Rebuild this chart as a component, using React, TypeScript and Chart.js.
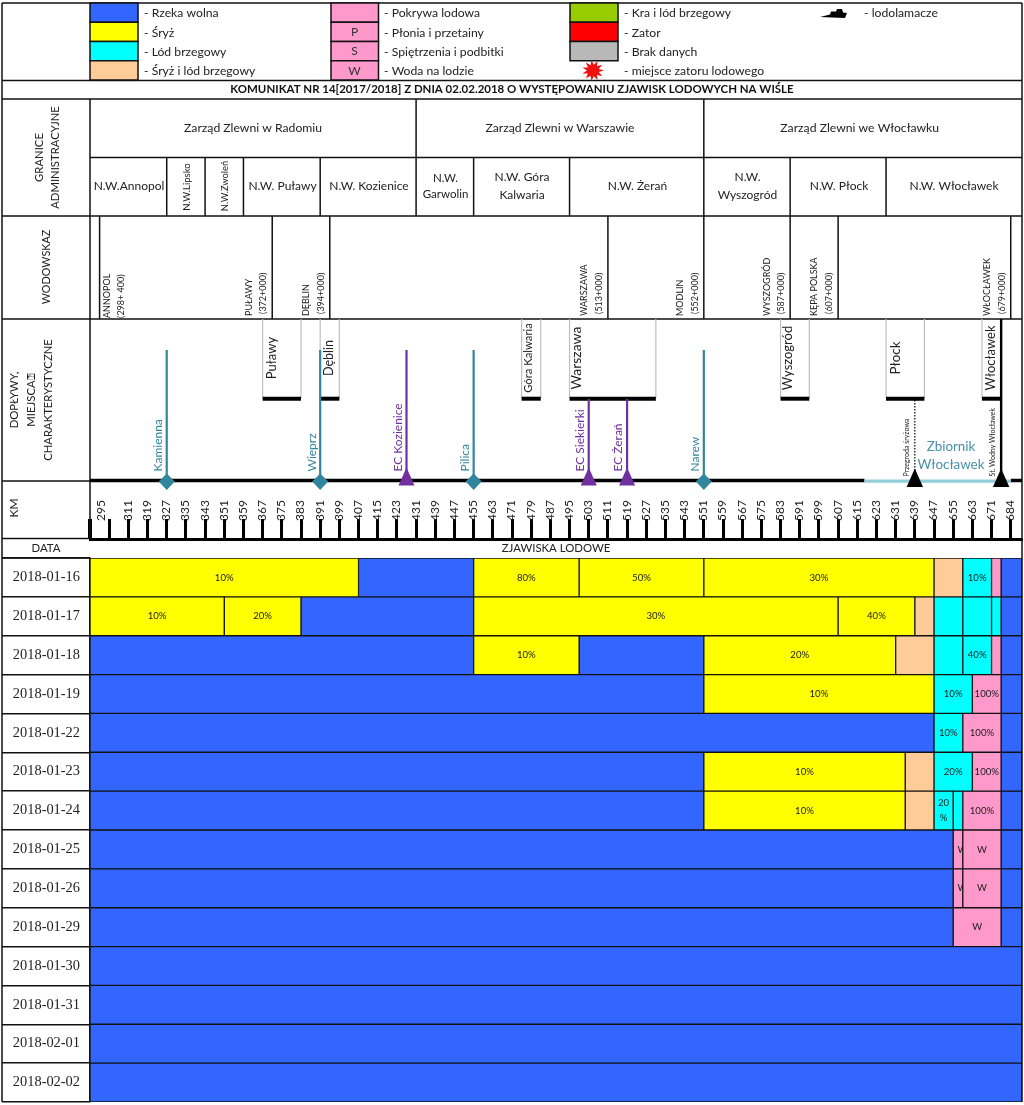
import React, { useEffect, useRef } from "react";
import { Chart, registerables } from "chart.js";

Chart.register(...registerables);

const FONT = "Lato";
const INK = "#222222";
const TEAL = "#31859C";
const PURPLE = "#7030A0";

const dates = [
  "2018-01-16", "2018-01-17", "2018-01-18", "2018-01-19", "2018-01-22", "2018-01-23", "2018-01-24",
  "2018-01-25", "2018-01-26", "2018-01-29", "2018-01-30", "2018-01-31", "2018-02-01", "2018-02-02",
];

const kmStart = 295;
const kmEnd = 683.7;

// river-km edges, ice types and labels per date
const edges0116 = [kmStart, 407, 455, 499, 551, 647, 659, 671, 675, kmEnd];
const types0116 = ["S", "R", "S", "S", "S", "B", "L", "P", "R"];
const labels0116 = ["10%", "", "80%", "50%", "30%", "", "10%", "", ""];

const edges0117 = [kmStart, 351, 383, 455, 607, 639, 647, 659, 671, 675, kmEnd];
const types0117 = ["S", "S", "R", "S", "S", "B", "L", "L", "L", "R"];
const labels0117 = ["10%", "20%", "", "30%", "40%", "", "", "", "", ""];

const edges0118 = [kmStart, 455, 499, 551, 631, 647, 659, 671, 675, kmEnd];
const types0118 = ["R", "S", "R", "S", "B", "L", "L", "P", "R"];
const labels0118 = ["", "10%", "", "20%", "", "", "40%", "", ""];

const edges0119 = [kmStart, 551, 647, 663, 675, kmEnd];
const types0119 = ["R", "S", "L", "P", "R"];
const labels0119 = ["", "10%", "10%", "100%", ""];

const edges0122 = [kmStart, 647, 659, 675, kmEnd];
const types0122 = ["R", "L", "P", "R"];
const labels0122 = ["", "10%", "100%", ""];

const edges0123 = [kmStart, 551, 635, 647, 663, 675, kmEnd];
const types0123 = ["R", "S", "B", "L", "P", "R"];
const labels0123 = ["", "10%", "", "20%", "100%", ""];

const edges0124 = [kmStart, 551, 635, 647, 655, 659, 675, kmEnd];
const types0124 = ["R", "S", "B", "L", "L", "P", "R"];
const labels0124 = ["", "10%", "", "20\n%", "", "100%", ""];

const edges0125 = [kmStart, 655, 659, 675, kmEnd];
const types0125 = ["R", "P", "P", "R"];
const labels0125 = ["", "W", "W", ""];

const edges0126 = [kmStart, 655, 659, 675, kmEnd];
const types0126 = ["R", "P", "P", "R"];
const labels0126 = ["", "W", "W", ""];

const edges0129 = [kmStart, 655, 675, kmEnd];
const types0129 = ["R", "P", "R"];
const labels0129 = ["", "W", ""];

const edgesOpen = [kmStart, kmEnd];
const typesOpen = ["R"];
const labelsOpen = [""];

const rowEdges = [edges0116, edges0117, edges0118, edges0119, edges0122, edges0123, edges0124, edges0125, edges0126, edges0129, edgesOpen, edgesOpen, edgesOpen, edgesOpen];
const rowTypes = [types0116, types0117, types0118, types0119, types0122, types0123, types0124, types0125, types0126, types0129, typesOpen, typesOpen, typesOpen, typesOpen];
const rowLabels = [labels0116, labels0117, labels0118, labels0119, labels0122, labels0123, labels0124, labels0125, labels0126, labels0129, labelsOpen, labelsOpen, labelsOpen, labelsOpen];

const iceColors: Record<string, string> = {
  R: "#3366FF", S: "#FFFF00", L: "#00FFFF", B: "#FFCC99", P: "#FF99CC",
};

// km ruler
const kmTicks = [295, 299.6, 303, 311, 319, 327, 335, 343, 351, 359, 367, 375, 383, 391, 399, 407, 415, 423, 431, 439, 447, 455, 463, 471, 479, 487, 495, 503, 511, 519, 527, 535, 543, 551, 559, 567, 575, 583, 591, 599, 607, 615, 623, 631, 639, 647, 655, 663, 671, 679];
const kmLabelFor: Record<number, string> = { 299.6: "295", 679: "684" };
const kmHidden = 299.6;

// header tables
const legend1 = ["- Rzeka wolna", "- Śryż", "- Lód brzegowy", "- Śryż i lód brzegowy"];
const legend1Colors = ["#3366FF", "#FFFF00", "#00FFFF", "#FFCC99"];
const legend2 = ["- Pokrywa lodowa", "- Płonia i przetainy", "- Spiętrzenia i podbitki", "- Woda na lodzie"];
const legend2Marks = ["", "P", "S", "W"];
const legend3 = ["- Kra i lód brzegowy", "- Zator", "- Brak danych", "- miejsce zatoru lodowego"];
const legend3Colors = ["#99CC00", "#FF0000", "#B8B8B8"];
const title = "KOMUNIKAT NR 14[2017/2018] Z DNIA 02.02.2018 O WYSTĘPOWANIU ZJAWISK LODOWYCH NA WIŚLE";

const zarzadKm = [431, 551];
const zarzadNames = ["Zarząd Zlewni w Radomiu", "Zarząd Zlewni w Warszawie", "Zarząd Zlewni we Włocławku"];
const zarzadCenters = [363, 491, 616];
const nwKm = [327, 343, 359, 391, 431, 455, 495, 551, 587, 627];

const gaugeKm = [299, 371, 395, 511, 551, 587, 607, 679];
const gaugeName = ["ANNOPOL", "PUŁAWY", "DĘBLIN", "WARSZAWA", "MODLIN", "WYSZOGRÓD", "KĘPA POLSKA", "WŁOCŁAWEK"];
const gaugeMark = ["(298+ 400)", "(372+000)", "(394+000)", "(513+000)", "(552+000)", "(587+000)", "(607+000)", "(679+000)"];

const townFrom = [367, 391, 475, 495, 583, 627, 667];
const townTo = [383, 399, 483, 531, 595, 643, 675];
const townName = ["Puławy", "Dęblin", "Góra Kalwaria", "Warszawa", "Wyszogród", "Płock", "Włocławek"];
const townTextKm = [371, 394.5, 478, 498, 586, 631, 670.5];
const townTextSize = [13, 12.6, 11.3, 14, 13, 13.4, 13];

const tributaryKm = [327, 391, 455, 551];
const tributaryName = ["Kamienna", "Wieprz", "Pilica", "Narew"];
const plantKm = [427, 503, 519];
const plantName = ["EC Kozienice", "EC Siekierki", "EC Żerań"];
const barrageKm = [639, 675];
const reservoirFrom = 618;
const reservoirTo = 679;

function App() {
  const ref = useRef<HTMLCanvasElement>(null);

  useEffect(() => {
    if (!ref.current) return;

    const vText = (ctx: any, t: string, x: number, y: number, size: number, o: any = {}) => {
      ctx.save();
      ctx.translate(x, y);
      ctx.rotate(-Math.PI / 2);
      ctx.font = `${o.weight || "normal"} ${size}px ${FONT}`;
      ctx.fillStyle = o.color || INK;
      ctx.textAlign = o.align || "center";
      ctx.textBaseline = "middle";
      ctx.fillText(t, 0, 0);
      ctx.restore();
    };
    const hText = (ctx: any, t: string, x: number, y: number, size: number, o: any = {}) => {
      ctx.font = `${o.weight || "normal"} ${size}px ${FONT}`;
      ctx.fillStyle = o.color || INK;
      ctx.textAlign = o.align || "center";
      ctx.textBaseline = "middle";
      ctx.fillText(t, x, y);
    };
    const line = (ctx: any, x1: number, y1: number, x2: number, y2: number, w = 1.5, c = "#111") => {
      ctx.beginPath();
      ctx.lineWidth = w;
      ctx.strokeStyle = c;
      ctx.moveTo(x1, y1);
      ctx.lineTo(x2, y2);
      ctx.stroke();
    };

    const shiftAxis = {
      id: "shiftAxis",
      afterLayout(chart: any) {
        const s = chart.scales.x;
        s.top -= 19;
        s.bottom -= 19;
      },
      beforeDraw(chart: any) {
        const c = chart.ctx;
        c.fillStyle = "#fff";
        c.fillRect(0, 0, chart.width, chart.height);
      },
    };

    const barLabels = {
      id: "barLabels",
      afterDatasetsDraw(chart: any) {
        const c = chart.ctx;
        rowLabels.forEach((labels, r) => {
          labels.forEach((t, i) => {
            if (!t) return;
            const el = chart.getDatasetMeta(i).data[r];
            const l = Math.min(el.x, el.base);
            const w = Math.abs(el.x - el.base);
            c.save();
            c.beginPath();
            c.rect(l, el.y - el.height / 2, w, el.height);
            c.clip();
            const cx = l + w / 2 + (t === "W" && w < 12 ? 4.5 : 0);
            const parts = t.split("\n");
            parts.forEach((p, k) => {
              hText(c, p, cx, el.y + (k - (parts.length - 1) / 2) * 15, 9.6, { color: "#1c1c1c" });
            });
            c.restore();
          });
        });
      },
    };

    const header = {
      id: "header",
      afterDraw(chart: any) {
        const c = chart.ctx;
        const xs = chart.scales.x;
        const X = (km: number) => xs.getPixelForValue(km);
        const L = 2, M = 90, R = 1022;

        // trim the ruler's base line to the frame
        c.fillStyle = "#fff";
        c.fillRect(R + 1, 530, 2, 14);

        // outer frame and rows
        line(c, L, 3, R, 3);
        line(c, L, 3, L, 1102);
        line(c, R, 3, R, 1102);
        line(c, L, 80.5, R, 80.5);
        line(c, L, 99, R, 99);
        line(c, M, 157.5, R, 157.5);
        line(c, L, 216, R, 216);
        line(c, L, 319, R, 319);
        line(c, L, 481, M, 481);
        line(c, L, 538.5, M, 538.5);
        line(c, M, 99, M, 481);
        line(c, M, 481, M, 539);
        line(c, L, 558, M, 558);

        // legend
        legend1.forEach((t, i) => {
          const y = 3 + i * 19.25;
          c.fillStyle = legend1Colors[i];
          c.fillRect(M, y, 48, 19.25);
          c.lineWidth = 1.5;
          c.strokeStyle = "#111";
          c.strokeRect(M, y, 48, 19.25);
          hText(c, t, 144, y + 10.5, 12.2, { align: "left" });
        });
        legend2.forEach((t, i) => {
          const y = 3 + i * 19.25;
          c.fillStyle = "#FF99CC";
          c.fillRect(331, y, 47.5, 19.25);
          c.lineWidth = 1.5;
          c.strokeStyle = "#111";
          c.strokeRect(331, y, 47.5, 19.25);
          if (legend2Marks[i]) hText(c, legend2Marks[i], 354.5, y + 10, 12, { color: "#333" });
          hText(c, t, 384, y + 10.5, 12.2, { align: "left" });
        });
        legend3.forEach((t, i) => {
          const y = 3 + i * 19.25;
          if (legend3Colors[i]) {
            c.fillStyle = legend3Colors[i];
            c.fillRect(570, y, 48, 19.25);
            c.lineWidth = 1.5;
            c.strokeStyle = "#111";
            c.strokeRect(570, y, 48, 19.25);
          }
          hText(c, t, 624, y + 10.5, 12.2, { align: "left" });
        });
        // jam star
        c.beginPath();
        const spikes = 11;
        for (let k = 0; k < spikes * 2; k++) {
          const rad = k % 2 ? 6 : 11;
          const a = (k * Math.PI) / spikes;
          const px = 593 + Math.cos(a) * rad;
          const py = 70.5 + Math.sin(a) * rad * 0.95;
          k ? c.lineTo(px, py) : c.moveTo(px, py);
        }
        c.closePath();
        c.fillStyle = "#F01010";
        c.fill();
        // icebreaker
        c.beginPath();
        c.moveTo(820, 17);
        c.lineTo(830, 14.5);
        c.lineTo(831, 11.5);
        c.lineTo(836, 11.5);
        c.lineTo(837, 9);
        c.lineTo(842, 9);
        c.lineTo(843, 12.5);
        c.lineTo(847, 13);
        c.lineTo(845, 18);
        c.closePath();
        c.fillStyle = "#000";
        c.fill();
        hText(c, "- lodolamacze", 864, 13.5, 12.2, { align: "left" });

        // title
        hText(c, title, 512, 89.5, 11.48, { weight: "bold", color: "#111" });

        // administration
        zarzadKm.forEach((k) => line(c, X(k), 99, X(k), 157.5));
        nwKm.forEach((k) => line(c, X(k), 157.5, X(k), 216));
        zarzadNames.forEach((t, i) => hText(c, t, X(zarzadCenters[i]), 128.5, 12.2));
        hText(c, "N.W.Annopol", 129, 186.5, 12);
        vText(c, "N.W.Lipsko", 186.5, 187, 9.6);
        vText(c, "N.W.Zwoleń", 224.5, 186, 9.3);
        hText(c, "N.W. Puławy", 282.5, 186.5, 12);
        hText(c, "N.W. Kozienice", 369, 186.5, 12);
        hText(c, "N.W.", 445.5, 178, 11.5);
        hText(c, "Garwolin", 445.5, 194.5, 11.5);
        hText(c, "N.W. Góra", 522, 177.5, 12);
        hText(c, "Kalwaria", 522, 195, 12);
        hText(c, "N.W. Żerań", 637.5, 186.5, 12);
        hText(c, "N.W.", 747.5, 177.5, 12);
        hText(c, "Wyszogród", 747.5, 195, 12);
        hText(c, "N.W. Płock", 839, 186.5, 12);
        hText(c, "N.W. Włocławek", 954, 186.5, 12);

        // left header
        vText(c, "GRANICE", 39, 157.5, 11.3);
        vText(c, "ADMINISTRACYJNE", 55, 157.5, 11.3);
        vText(c, "WODOWSKAZ", 47, 267, 10.8);
        vText(c, "DOPŁYWY,", 14, 400, 11.3);
        vText(c, "MIEJSCA⍰", 31, 400, 11.3);
        vText(c, "CHARAKTERYSTYCZNE", 48, 400, 11.3);
        vText(c, "KM", 14, 508, 12);
        hText(c, "DATA", 46, 548.5, 11.4);
        hText(c, "ZJAWISKA LODOWE", 556, 548.5, 11.4);

        // gauges
        gaugeKm.forEach((k, i) => {
          const x = X(k);
          line(c, x, 216, x, 319, 1.5);
          const first = i === 0;
          vText(c, gaugeName[i], x - (first ? -8 : 23.5), first ? 318 : 316, 9, { align: "left" });
          vText(c, gaugeMark[i], x - (first ? -21.5 : 9), first ? 318 : 314, 9, { align: "left" });
        });

        // towns
        townName.forEach((t, i) => {
          const a = X(townFrom[i]);
          const b = X(townTo[i]);
          line(c, a, 319, a, 398, 1.2, "#BFBFBF");
          line(c, b, 319, b, 398, 1.2, "#BFBFBF");
          line(c, a, 398.7, b, 398.7, 4, "#000");
          vText(c, t, X(townTextKm[i]), 358, townTextSize[i]);
        });

        // main river line
        line(c, M, 480.5, X(reservoirFrom), 480.5, 3.5, "#000");
        line(c, X(reservoirTo), 480.5, R, 480.5, 3.5, "#000");
        line(c, X(reservoirFrom), 481.2, X(reservoirTo), 481.2, 3.2, "#92CDDC");

        // tributaries
        tributaryKm.forEach((k, i) => {
          const x = X(k);
          line(c, x, 350, x, 480, 2.2, TEAL);
          c.beginPath();
          c.moveTo(x, 473.5);
          c.lineTo(x + 8, 481.5);
          c.lineTo(x, 490);
          c.lineTo(x - 8, 481.5);
          c.closePath();
          c.fillStyle = TEAL;
          c.fill();
          vText(c, tributaryName[i], x - 8.5, 471.5, 12, { align: "left", color: TEAL });
        });
        // power plants
        plantKm.forEach((k, i) => {
          const x = X(k);
          line(c, x, i === 0 ? 350 : 399, x, 478, 2.2, PURPLE);
          c.beginPath();
          c.moveTo(x, 467.5);
          c.lineTo(x + 8, 485.5);
          c.lineTo(x - 8, 485.5);
          c.closePath();
          c.fillStyle = PURPLE;
          c.fill();
          vText(c, plantName[i], x - 8.5, 471.5, 12, { align: "left", color: PURPLE });
        });
        // barrage & dam
        c.save();
        c.setLineDash([1.5, 1.5]);
        line(c, X(barrageKm[0]), 400, X(barrageKm[0]), 472, 1.2, "#000");
        c.restore();
        line(c, X(barrageKm[1]), 319, X(barrageKm[1]), 472, 2.4, "#000");
        barrageKm.forEach((k) => {
          const x = X(k);
          c.beginPath();
          c.moveTo(x, 468.5);
          c.lineTo(x + 8.2, 487);
          c.lineTo(x - 8.2, 487);
          c.closePath();
          c.fillStyle = "#000";
          c.fill();
        });
        vText(c, "Przegroda śryżowa", X(barrageKm[0]) - 8.5, 476.5, 7, { align: "left" });
        vText(c, "St. Wodny Włocławek", X(barrageKm[1]) - 8.5, 476.5, 7, { align: "left" });
        hText(c, "Zbiornik", 951, 446.5, 13.4, { color: "#4A90A8" });
        hText(c, "Włocławek", 951, 465, 13.4, { color: "#4A90A8" });
      },
    };

    const slots = Math.max(...rowTypes.map((t) => t.length));
    const datasets = Array.from({ length: slots }, (_, i) => ({
      label: `segment ${i + 1}`,
      data: rowEdges.map((e) => (i < e.length - 1 ? [e[i], e[i + 1]] : null)),
      backgroundColor: rowTypes.map((t) => iceColors[t[i]] || "transparent"),
      borderColor: "#111111",
      borderWidth: 1,
      borderSkipped: false,
      grouped: false,
      categoryPercentage: 1,
      barPercentage: 1,
    }));

    const chart = new Chart(ref.current, {
      type: "bar",
      data: { labels: dates, datasets: datasets as any },
      plugins: [shiftAxis, barLabels, header],
      options: {
        indexAxis: "y",
        animation: false,
        responsive: false,
        devicePixelRatio: 1,
        layout: { padding: { top: 508, bottom: 3, left: 0, right: 2 } },
        plugins: { legend: { display: false }, tooltip: { enabled: false } },
        scales: {
          x: {
            type: "linear",
            position: "top",
            min: kmStart,
            max: kmEnd,
            afterBuildTicks(s: any) {
              s.ticks = kmTicks.map((value) => ({ value }));
            },
            afterFit(s: any) {
              s.height = 50;
              s.paddingLeft = 0;
              s.paddingRight = 0;
            },
            border: { display: true, width: 3, color: "#000" },
            grid: {
              drawOnChartArea: false,
              drawTicks: true,
              tickLength: 20,
              lineWidth: (ctx: any) => (ctx.tick && ctx.tick.value === kmHidden ? 0 : ctx.tick && ctx.tick.value === 295 ? 4 : 3),
              color: (ctx: any) => (ctx.tick && ctx.tick.value === kmHidden ? "rgba(0,0,0,0)" : "#000"),
            },
            ticks: {
              autoSkip: false,
              maxRotation: 90,
              minRotation: 90,
              padding: -2,
              labelOffset: 14,
              color: INK,
              font: { family: FONT, size: 12 },
              callback: (v: any) => {
                if (kmLabelFor[v]) return kmLabelFor[v];
                if (v === 295 || v === 303) return "";
                return String(v);
              },
            },
          },
          y: {
            type: "category",
            afterFit(s: any) {
              s.width = 90;
            },
            border: { display: true, width: 1.5, color: "#111" },
            grid: {
              offset: true,
              drawOnChartArea: false,
              drawTicks: true,
              tickLength: 88,
              lineWidth: 1.5,
              color: "#111",
            },
            ticks: {
              padding: -78,
              crossAlign: "near",
              color: INK,
              font: { family: "Liberation Serif", size: 14.4 },
            },
          },
        },
      } as any,
    });
    return () => chart.destroy();
  }, []);

  return (
    <canvas
      ref={ref}
      width={1024}
      height={1105}
      style={{ position: "absolute", left: 0, top: 0, width: 1024, height: 1105, display: "block" }}
    />
  );
}

export default App;
